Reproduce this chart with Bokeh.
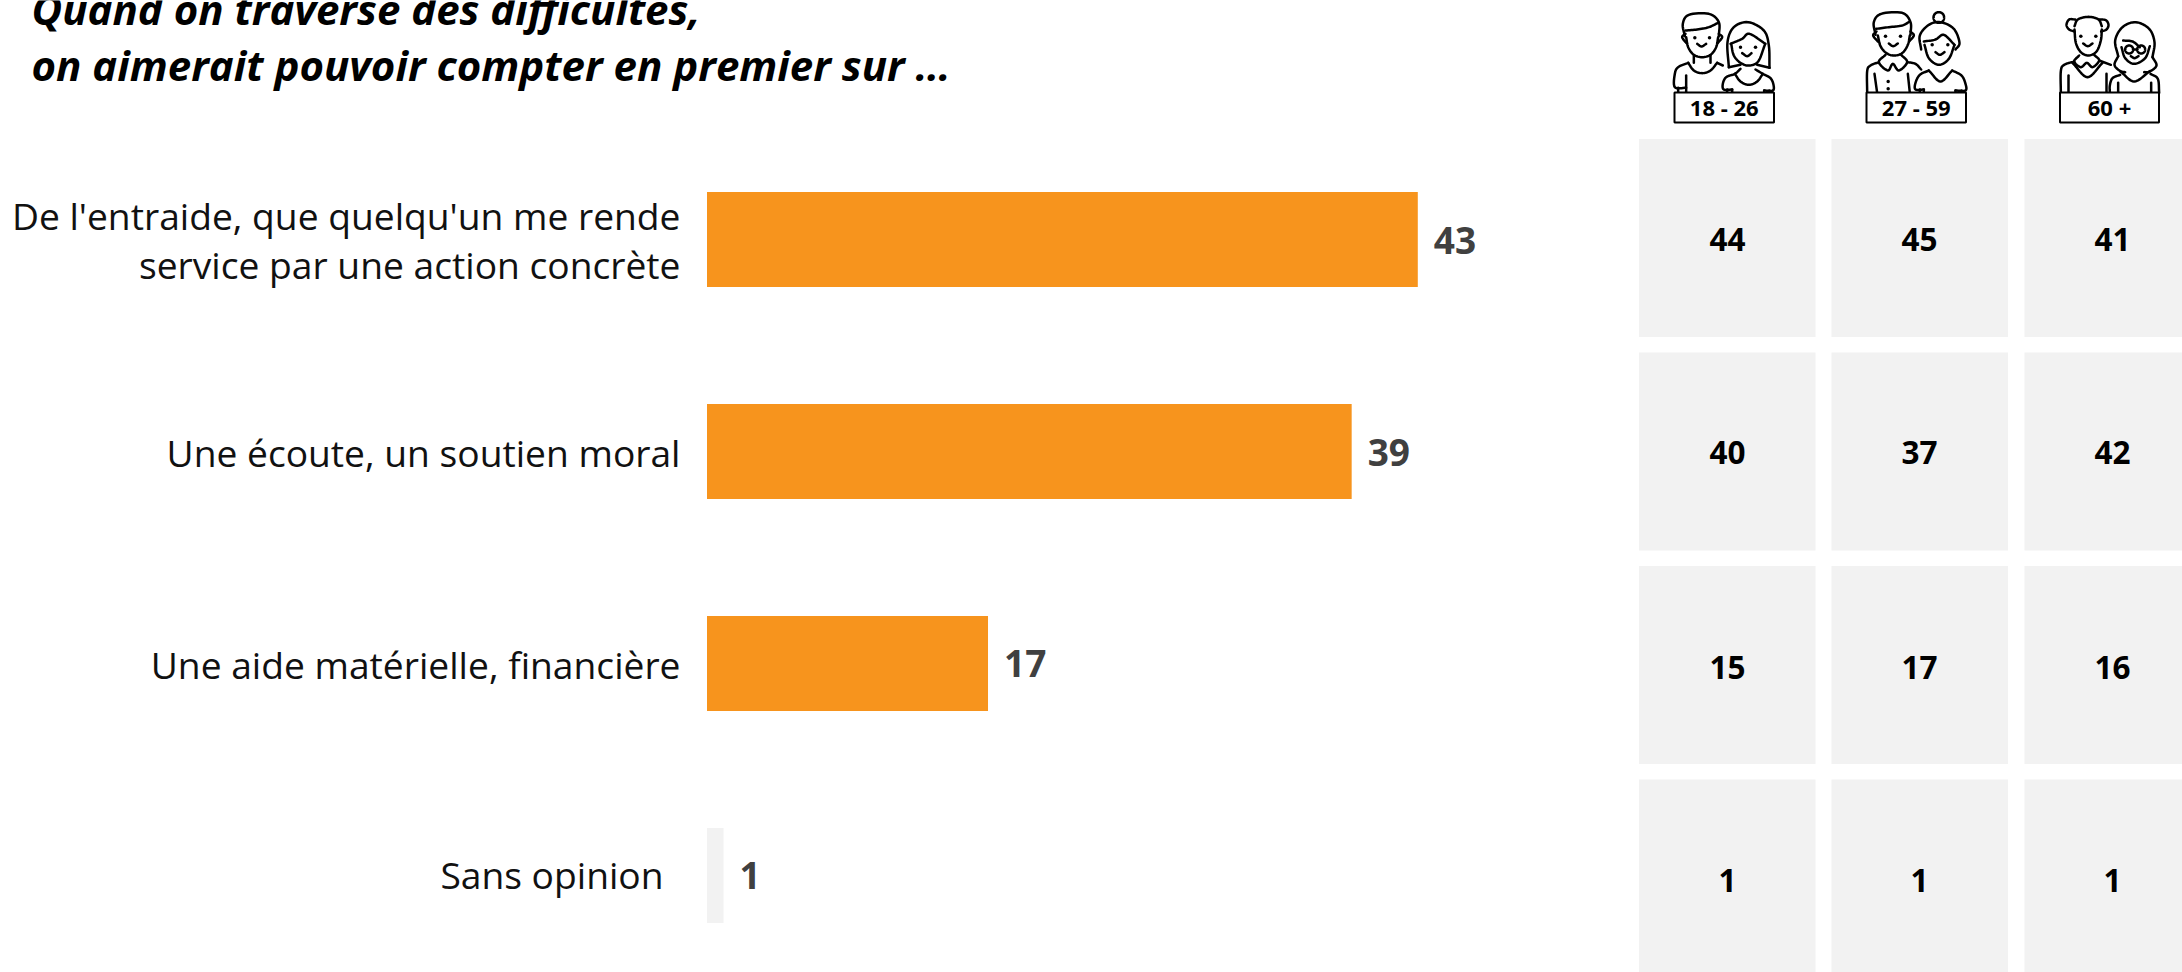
from bokeh.plotting import figure
from bokeh.models import Range1d
from bokeh.core.properties import value
from bokeh.embed import file_html
from bokeh.resources import INLINE
import numpy as np

# ---- data ----
title_lines = ["Quand on traverse des difficultés,", "on aimerait pouvoir compter en premier sur …"]
answers = [["De l'entraide, que quelqu'un me rende", "service par une action concrète"],
           ["Une écoute, un soutien moral"],
           ["Une aide matérielle, financière"],
           ["Sans opinion"]]
totals = [43, 39, 17, 1]
bar_colors = ["#F7941D", "#F7941D", "#F7941D", "#F2F2F2"]
age_groups = ["18 - 26", "27 - 59", "60 +"]
by_age = {"18 - 26": [44, 40, 15, 1], "27 - 59": [45, 37, 17, 1], "60 +": [41, 42, 16, 1]}

# ---- layout ----
W, H = 2182, 972
X0, UNIT = 706.5, 16.53
FONT = value("Open Sans")
p = figure(width=W, height=H, output_backend="svg", toolbar_location=None,
           x_range=Range1d(-X0 / UNIT, (W - X0) / UNIT), y_range=Range1d(H, 0),
           min_border=0, margin=(0, 0, 0, 0), outline_line_color=None)
p.extra_x_ranges["px"] = Range1d(0, W)
p.axis.visible = False
p.grid.visible = False
p.background_fill_color = "white"
p.border_fill_color = "white"

bar_y = [239, 451, 663, 875]
label_y = [[215, 264], [452], [664], [874]]
label_x = [680, 680, 680, 663]
p.hbar(y=bar_y, left=0, right=totals, height=95, color=bar_colors, line_color=None)
p.text(x=totals, y=[240, 452, 663, 875], text=[str(v) for v in totals],
       x_offset=[16, 16, 16, 16], text_font=FONT, text_font_style="bold", text_font_size="37px",
       text_color="#404040", text_align="left", text_baseline="middle")

for lines, ys, lx in zip(answers, label_y, label_x):
    p.text(x=[lx] * len(lines), y=ys, text=lines, x_range_name="px", text_font=FONT,
           text_font_size="37.2px", text_color="#111111", text_align="right", text_baseline="middle")

p.text(x=[31, 31], y=[8, 64], text=title_lines, x_range_name="px", text_font=FONT,
       text_font_style="bold italic", text_font_size="42px", text_color="black",
       text_align="left", text_baseline="alphabetic")

# grid of age columns
cell_left = [1638.5, 1831, 2024]
cell_w = 176.5
cell_top = [138.5, 352, 565.5, 779]
cell_h = 198
col_text_x = [1727, 1919, 2112]
row_text_y = [239, 452, 667, 880]
for cl, tx, g in zip(cell_left, col_text_x, age_groups):
    p.quad(left=cl, right=cl + cell_w, top=cell_top, bottom=[t + cell_h for t in cell_top],
           x_range_name="px", color="#F2F2F2", line_color=None)
    p.text(x=[tx] * 4, y=row_text_y, text=[str(v) for v in by_age[g]], x_range_name="px",
           text_font=FONT, text_font_style="bold", text_font_size="31.5px", text_color="black",
           text_align="center", text_baseline="middle")

# ---- pictograms (drawn in a 360-unit crop space) ----
def smooth(pts, n=8):
    pts = np.array(pts, float)
    if len(pts) < 3:
        return pts[:, 0], pts[:, 1]
    q = np.vstack([2 * pts[0] - pts[1], pts, 2 * pts[-1] - pts[-2]])
    xs, ys = [], []
    for i in range(1, len(q) - 2):
        for t in np.linspace(0, 1, n, endpoint=False):
            a = 0.5 * ((2 * q[i]) + (-q[i - 1] + q[i + 1]) * t
                       + (2 * q[i - 1] - 5 * q[i] + 4 * q[i + 1] - q[i + 2]) * t ** 2
                       + (-q[i - 1] + 3 * q[i] - 3 * q[i + 1] + q[i + 2]) * t ** 3)
            xs.append(a[0]); ys.append(a[1])
    xs.append(pts[-1, 0]); ys.append(pts[-1, 1])
    return np.array(xs), np.array(ys)

def circle(cx, cy, r):
    a = np.linspace(0, 2 * np.pi, 17)
    return [(cx + r * np.cos(t), cy + r * np.sin(t)) for t in a]

icon1 = [
    [(58, 92), (52, 55), (70, 28), (130, 25), (160, 50), (160, 92)],
    [(60, 75), (95, 72), (130, 65), (158, 52)],
    [(62, 95), (68, 125), (85, 148), (110, 155), (135, 148), (152, 125), (158, 95)],
    [(60, 85), (50, 95), (62, 112)], [(160, 85), (170, 95), (157, 112)],
    [(95, 115), (108, 123), (122, 115)],
    [(85, 150), (85, 172)], [(135, 150), (135, 172)],
    [(68, 172), (85, 195), (110, 203), (135, 195), (155, 172)],
    [(68, 172), (38, 185), (28, 205), (28, 245), (62, 247)],
    [(38, 247), (38, 262)], [(62, 210), (62, 262)], [(155, 172), (172, 180)],
    [(190, 185), (186, 110), (205, 65), (248, 50), (295, 75), (310, 120), (312, 187)],
    [(190, 185), (225, 178)], [(312, 187), (275, 178)],
    [(195, 115), (230, 100), (252, 85), (300, 115)],
    [(197, 115), (205, 150), (225, 172), (250, 180), (278, 168), (298, 118)],
    [(230, 143), (245, 152), (258, 143)],
    [(208, 205), (225, 228), (250, 238), (275, 228), (292, 205)],
    [(225, 190), (208, 205), (182, 215), (172, 235), (175, 252), (200, 252)],
    [(270, 192), (292, 205), (315, 218), (324, 238), (322, 255), (296, 255)],
    [(200, 252), (200, 262)], [(296, 255), (296, 262)], [(185, 252), (185, 262)], [(312, 255), (312, 262)],
]
dots1 = [(88, 97), (132, 97), (225, 125), (270, 125)]

icon2 = [
    [(45, 88), (40, 50), (62, 25), (125, 22), (150, 50), (150, 88)],
    [(47, 70), (85, 65), (125, 60), (148, 48)],
    [(52, 90), (60, 122), (78, 143), (100, 150), (125, 143), (142, 118), (148, 90)],
    [(48, 78), (38, 90), (52, 108)], [(150, 78), (160, 90), (146, 108)],
    [(85, 114), (98, 122), (112, 114)],
    [(75, 148), (55, 170), (82, 195), (97, 175), (115, 195), (140, 170), (122, 148)],
    [(55, 170), (30, 180), (20, 197), (20, 262)],
    [(42, 205), (50, 262)], [(142, 205), (148, 262)], [(140, 170), (165, 175), (182, 192)],
    [(182, 132), (178, 90), (205, 58), (240, 50), (280, 70), (297, 112), (285, 132)],
    [(190, 108), (225, 102), (250, 88), (282, 118)],
    [(192, 118), (205, 158), (235, 178), (265, 160), (282, 118)],
    [(225, 140), (238, 148), (252, 140)],
    [(205, 195), (240, 228), (275, 195)],
    [(205, 195), (178, 208), (165, 232), (165, 252), (190, 252)],
    [(275, 195), (303, 210), (315, 235), (315, 255), (285, 255)],
    [(190, 252), (190, 262)], [(178, 252), (178, 262)], [(285, 255), (285, 262)], [(303, 255), (303, 262)],
    circle(235, 36, 16),
]
dots2 = [(75, 92), (120, 92), (215, 118), (262, 118), (83, 228), (83, 250)]

icon3 = [
    [(66, 62), (76, 42), (108, 34), (138, 42), (148, 62)],
    [(68, 42), (50, 42), (42, 58), (50, 72), (66, 78)], [(140, 42), (160, 44), (168, 58), (162, 72), (146, 78)],
    [(66, 72), (70, 112), (85, 140), (108, 150), (132, 138), (145, 105), (148, 72)],
    [(92, 114), (106, 122), (120, 114)],
    [(80, 150), (65, 168), (85, 185), (103, 172), (120, 185), (140, 165), (125, 148)],
    [(60, 172), (105, 215), (150, 172)],
    [(65, 168), (35, 178), (25, 197), (25, 262)], [(48, 210), (48, 262)],
    [(140, 165), (175, 178)], [(162, 205), (162, 262)],
    [(197, 152), (188, 105), (210, 65), (250, 50), (290, 70), (306, 110), (300, 155)],
    [(212, 105), (240, 108), (262, 125)],
    [(207, 125), (218, 158), (245, 175), (278, 158), (292, 122)],
    [(235, 152), (246, 158), (258, 152)],
    [(197, 152), (186, 178), (202, 196), (218, 200)], [(300, 155), (312, 180), (292, 198), (275, 200)],
    [(203, 197), (245, 228), (292, 197)],
    [(203, 208), (180, 218), (172, 240), (172, 262)], [(294, 205), (316, 220), (320, 262)],
    [(197, 232), (197, 262)], [(296, 232), (296, 262)],
    circle(230, 132, 12), circle(266, 132, 12), [(242, 132), (254, 132)],
]
dots3 = [(85, 92), (130, 92)]

icons = [(icon1, dots1, 1665, 5), (icon2, dots2, 1860, 5), (icon3, dots3, 2052, 5)]
for paths, dots, ox, oy in icons:
    xs, ys = [], []
    for path in paths:
        a, b = smooth(path)
        xs.append(ox + a / 3); ys.append(oy + b / 3)
    p.multi_line(xs=xs, ys=ys, x_range_name="px", line_color="black", line_width=2.5,
                 line_join="round", line_cap="round")
    p.scatter(x=[ox + d[0] / 3 for d in dots], y=[oy + d[1] / 3 for d in dots], x_range_name="px",
              size=3.5, color="black", line_color=None)

box_left = [1674, 1866, 2059.5]
box_right = [1773.5, 1965.5, 2158.5]
p.quad(left=box_left, right=box_right, top=[92] * 3, bottom=[122] * 3, x_range_name="px",
       fill_color="white", line_color="black", line_width=2)
p.text(x=[(a + b) / 2 for a, b in zip(box_left, box_right)], y=[106] * 3, text=age_groups,
       x_range_name="px", text_font=FONT, text_font_style="bold", text_font_size="22px",
       text_color="black", text_align="center", text_baseline="middle")

open("out.html", "w").write(file_html(p, INLINE))
